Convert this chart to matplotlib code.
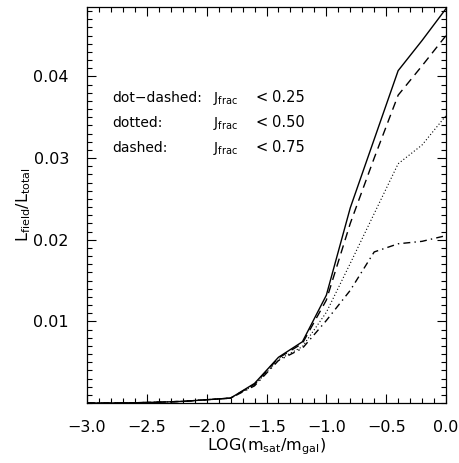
import numpy as np
import matplotlib
matplotlib.use('Agg')
import matplotlib.pyplot as plt
from matplotlib.ticker import MultipleLocator, FixedLocator

plt.rcParams['mathtext.default'] = 'regular'
plt.rcParams['font.family'] = 'DejaVu Sans'

# LOG(m_sat/m_gal) sample points
logm = [-3.0, -2.8, -2.6, -2.4, -2.2, -2.0, -1.8, -1.6, -1.4, -1.2, -1.0, -0.8, -0.6, -0.4, -0.2, 0.0]

# L_field / L_total
all_j   = [0.0, 0.0, 0.00003, 0.0001, 0.0002, 0.0004, 0.0006, 0.0024, 0.0056, 0.0075, 0.0132, 0.0239, 0.0323, 0.0407, 0.0444, 0.0483]
j_lt075 = [0.0, 0.0, 0.00003, 0.0001, 0.0002, 0.0004, 0.0006, 0.0023, 0.0055, 0.0073, 0.0126, 0.0220, 0.0300, 0.0377, 0.0413, 0.0450]
j_lt050 = [0.0, 0.0, 0.00003, 0.0001, 0.0002, 0.0004, 0.0006, 0.0022, 0.0053, 0.0069, 0.0111, 0.0171, 0.0232, 0.0293, 0.0316, 0.0352]
j_lt025 = [0.0, 0.0, 0.00003, 0.0001, 0.0002, 0.0004, 0.0006, 0.0021, 0.0052, 0.0067, 0.0101, 0.0138, 0.0185, 0.0195, 0.0198, 0.0205]

names = ['dot\u2212dashed:', 'dotted:', 'dashed:']
cuts = ['0.25', '0.50', '0.75']

fig = plt.figure(figsize=(4.6, 4.63), dpi=100)
ax = fig.add_axes([87/460, 1 - 403/463, (446-87)/460, (403-7)/463])

ax.plot(logm, all_j, color='black', lw=1.0, ls='-')
ax.plot(logm, j_lt075, color='black', lw=1.0, ls=(0, (6, 4)))
ax.plot(logm, j_lt050, color='black', lw=0.8, ls=(0, (1, 2)))
ax.plot(logm, j_lt025, color='black', lw=1.0, ls=(0, (5, 3, 1, 3)))

ax.set_xlim(-3.0, 0.0)
ax.set_ylim(0.0, 0.0485)
ax.xaxis.set_major_locator(MultipleLocator(0.5))
ax.xaxis.set_minor_locator(MultipleLocator(0.1))
ax.yaxis.set_major_locator(FixedLocator([0.01, 0.02, 0.03, 0.04]))
ax.yaxis.set_minor_locator(MultipleLocator(0.001))
ax.xaxis.set_major_formatter(plt.FuncFormatter(lambda v, p: ('%.1f' % v).replace('-', '\u2212')))
ax.yaxis.set_major_formatter(plt.FuncFormatter(lambda v, p: '%.2f' % v))
ax.tick_params(which='both', direction='in', top=True, right=True, width=0.8)
ax.tick_params(which='major', length=6.5, labelsize=11.5)
ax.tick_params(axis='x', which='major', pad=12)
ax.tick_params(axis='y', which='major', pad=13)
ax.tick_params(which='minor', length=3.5)
for s in ax.spines.values():
    s.set_linewidth(0.9)

ax.set_xlabel('LOG(m$_{sat}$/m$_{gal}$)', fontsize=11.5, labelpad=1)
ax.set_ylabel('L$_{field}$/L$_{total}$', fontsize=11.5)
ax.yaxis.set_label_coords(-0.15, 0.5)

for i in range(3):
    ty = 0.0369 - i * 0.00305
    ax.text(-2.79, ty, names[i], fontsize=10, va='baseline', ha='left')
    ax.text(-1.947, ty, 'J$_{frac}$', fontsize=10, va='baseline', ha='left')
    ax.text(-1.596, ty, '<', fontsize=10.5, va='baseline', ha='left')
    ax.text(-1.45, ty, cuts[i], fontsize=10.5, va='baseline', ha='left')

fig.savefig('out.png', dpi=100)
